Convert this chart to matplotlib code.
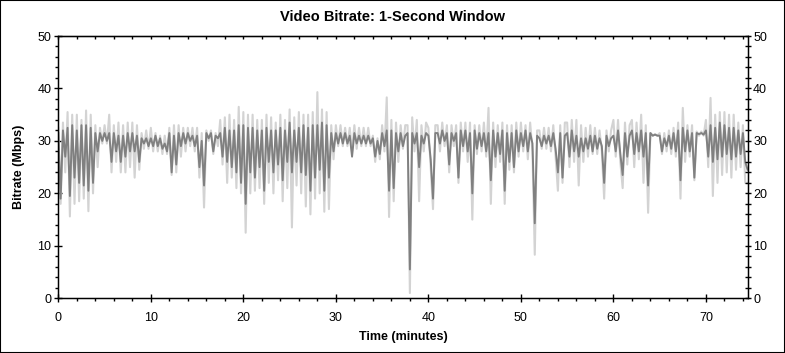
import matplotlib
matplotlib.use('Agg')
import matplotlib.pyplot as plt
import numpy as np
from matplotlib.patches import Rectangle
from matplotlib.ticker import MultipleLocator

plt.rcParams['font.family'] = ['Liberation Sans', 'DejaVu Sans']

# bitrate samples every 0.25 min (Mbps), one row per minute
light = [
    32.5, 18, 33.5, 24,   35.5, 15.6, 35, 18,   35, 18.5, 34, 19,   35.8, 16.6, 35, 20,
    33, 25, 32.5, 29.5,   33, 29.5, 35, 24,     33, 26, 33.5, 24,   33, 24, 33.5, 25,
    33.5, 23, 33, 24.5,   31.5, 28.5, 32, 28.5, 32.5, 28, 31.5, 28, 31, 27.5, 31, 27.5,
    32.5, 23.5, 33, 24,   33, 27, 32.5, 28,     32.5, 29, 32.5, 28, 32.5, 23, 31.5, 17.3,
    32, 30, 32, 27.5,     31.5, 29, 34, 25.5,   34.5, 22, 35, 23,   34, 21, 36.5, 20,
    35.5, 12.5, 35, 20,   35, 20.5, 34, 21,     34, 18, 35, 22,     34.5, 20, 33.5, 22.5,
    35, 18.5, 34, 21,     36, 13.5, 34.5, 21.5, 35.5, 20, 35, 17.5, 35, 16, 35.5, 19,
    39.3, 20, 36, 16.5,   35.5, 17, 33, 26.5,   33, 29, 33, 29,     32.5, 29, 32.5, 28,
    33, 28.5, 32.5, 29,   32.5, 29, 32.5, 29,   31, 26, 30.5, 26.5, 33, 28, 38.3, 15.5,
    34, 18.5, 33.5, 26,   33, 28.5, 33, 33,     1, 34.5, 28, 34,    18.5, 33, 28, 33.5,
    32.5, 25, 17, 33,     33, 28, 33.5, 29,     33, 24, 33, 29,     33, 22, 33.5, 28,
    33.5, 26, 33.5, 15,   33, 27.5, 33, 28,     33.5, 27, 36.3, 18, 33.5, 25, 33, 26,
    33.5, 18, 33, 24.5,   33, 24, 33.5, 27,     33.5, 28, 33, 26.5, 33.5, 28, 8.3, 32,
    32, 28.5, 32.5, 28.5, 32.5, 28, 33, 27,     20.5, 33, 22, 33.5, 33.5, 25, 34, 26,
    34, 21.5, 33, 26,     32.5, 27, 33, 27.5,   32.5, 27.5, 32, 28, 19, 32, 28, 32,
    34, 27, 34, 26,       21, 33.5, 25.5, 33,   34, 25, 33.5, 26.5, 35, 22, 33, 16.3,
    31.5, 31, 31.3, 31,   31.5, 27.5, 31.5, 28, 32, 27.5, 32.5, 27, 33.5, 19, 36.3, 26,
    33, 27, 33, 22.5,     31.8, 31, 31.8, 31,   34, 25, 38.2, 19.5, 35, 22, 35.5, 23.5,
    35.5, 24, 35, 23,     35, 24.5, 33.5, 25,   33, 22, 22,
]

dark = [
    31.5, 19, 32, 27,     32.5, 19.5, 33, 23,   32, 22, 33, 21.5,   33, 20.5, 32.5, 22,
    31.5, 28, 31.5, 30,   31.5, 30, 31.5, 26,   31.5, 28, 31, 26,   31, 27, 31.5, 28,
    31.5, 28, 31, 26,     30.5, 29.5, 30.5, 29, 30.5, 29, 31, 29,   30.5, 28.5, 29.5, 28,
    31.5, 24, 31, 25.5,   31.5, 29, 31.5, 29.5, 31.5, 30, 31, 29,   31, 25, 30, 21.5,
    31.5, 30.5, 31.5, 28, 31, 30.5, 31.5, 27,   32.5, 26, 32, 25,   32, 24, 33, 22,
    33, 18, 32.5, 24,     32.5, 23, 32, 25,     32, 20.5, 32.5, 26, 32, 24, 32, 25.5,
    32.5, 22.5, 32, 26,   33.5, 24, 32, 26,     32.5, 24, 33, 23.5, 32.5, 20.5, 33, 23,
    33, 24.5, 33.5, 20.5, 33, 23, 31.5, 28,     31.5, 29.5, 31.5, 29.5, 31.5, 29.5, 31, 27,
    31.5, 29.5, 31, 29.5, 31, 29.5, 31, 29.5,   30.5, 27, 30, 27.5, 31.5, 29, 32, 20.5,
    32, 21, 31.5, 28,     31.5, 29, 31, 31.5,   5.5, 31.5, 29.5, 31.5, 25, 31, 29.5, 31.5,
    31, 26.5, 19, 31.5,   31.5, 29.5, 32, 30,   31.5, 25.5, 31.5, 30, 31.5, 23, 32, 29,
    32, 28, 31.5, 20,     32, 28.5, 31.5, 29,   31.5, 28, 31.5, 22.5, 32, 27, 31.5, 27.5,
    32, 20.5, 31.5, 26,   31.5, 25, 32, 28,     31.5, 29, 32, 28,   31.5, 29.5, 14.3, 31,
    30.5, 29, 31, 29.5,   31, 29, 31.5, 28.5,   24, 31.5, 23, 31,   31.5, 27, 32, 28,
    31, 27, 30.5, 28,     30.5, 28.5, 31, 28,   31, 28.5, 30.5, 29, 22, 31, 29, 30.5,
    31, 28, 32, 27.5,     23.5, 31.5, 27, 31,   32, 27.5, 31.5, 28, 32, 27, 31.5, 21.5,
    31.5, 31, 31.2, 31,   31, 28, 30.5, 29,     31, 28.5, 31.5, 28, 32, 22.5, 32.5, 28,
    32, 28, 31.5, 23,     31.5, 31.3, 31.5, 31.2, 32, 27, 33, 26,   32.5, 26.5, 33.5, 27,
    33, 27.5, 32.5, 26.5, 32.5, 27, 32, 27.5,   31.5, 26, 24.5,
]

minutes = np.arange(len(dark)) * 0.25

fig = plt.figure(figsize=(7.85, 3.53), dpi=100)
ax = fig.add_axes([0.0743, 0.155, 0.878, 0.743])

ax.plot(minutes, light, color='#d3d3d3', lw=1.5)
ax.plot(minutes, dark, color='#808080', lw=1.4)

ax.set_xlim(0, 74.5)
ax.set_ylim(0, 50)
ax.xaxis.set_major_locator(MultipleLocator(10))
ax.xaxis.set_minor_locator(MultipleLocator(2))
ax.yaxis.set_major_locator(MultipleLocator(10))
ax.yaxis.set_minor_locator(MultipleLocator(2))
ax.tick_params(which='major', direction='inout', length=6, width=1, labelsize=9, pad=2)
ax.tick_params(axis='x', which='major', pad=7)
ax.tick_params(which='minor', direction='out', length=2, width=1)
for s in ax.spines.values():
    s.set_linewidth(1)

ax2 = ax.twinx()
ax2.set_ylim(0, 50)
ax2.yaxis.set_major_locator(MultipleLocator(10))
ax2.yaxis.set_minor_locator(MultipleLocator(2))
ax2.tick_params(which='both', direction='inout', length=4, width=1, labelsize=9, pad=2)

top = ax.secondary_xaxis('top')
top.xaxis.set_major_locator(MultipleLocator(10))
top.xaxis.set_minor_locator(MultipleLocator(2))
top.tick_params(which='both', direction='in', length=2.5, width=1, labeltop=False)

fig.text(0.5, 0.952, 'Video Bitrate: 1-Second Window', fontsize=10.5, fontweight='bold',
         ha='center', va='center')
ax.set_xlabel('Time (minutes)', fontsize=9, fontweight='bold', labelpad=5)
ax.set_ylabel('Bitrate (Mbps)', fontsize=9, fontweight='bold', labelpad=9)

fig.patches.append(Rectangle((0, 0), 1, 1, transform=fig.transFigure, fill=False,
                             ec='black', lw=1.5))

fig.savefig('out.png', dpi=100)
